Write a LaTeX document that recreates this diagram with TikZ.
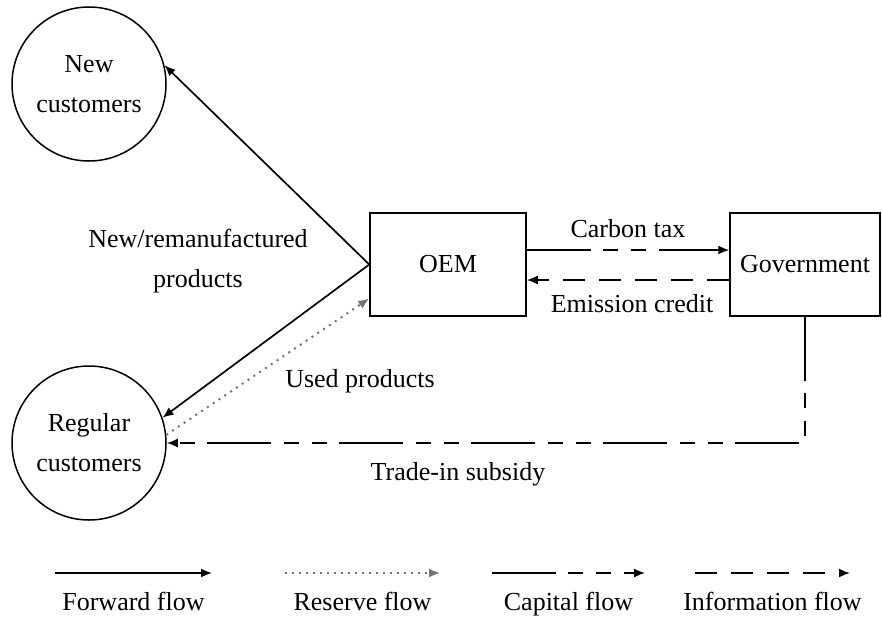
\documentclass[tikz,border=0pt]{standalone}
\usepackage{fontspec}
\setmainfont{Liberation Serif}
\usetikzlibrary{arrows.meta}

\tikzset{
	txt/.style={font=\fontsize{26}{40}\selectfont},
	lab/.style={txt, anchor=base, inner sep=0pt},
	cust/.style={txt, draw, circle, line width=1.5pt, minimum size=154pt, inner sep=0pt, align=center},
	box/.style={txt, draw, rectangle, line width=1.5pt, minimum height=103pt},
	tip/.style={-{Latex[length=11pt,width=9pt]}},
	fwdflow/.style={tip, line width=1.7pt},
	revflow/.style={tip, line width=2pt, draw=black!55, dash pattern=on 2pt off 5pt},
	capflow/.style={tip, line width=1.7pt, dash pattern=on 64pt off 12pt on 15pt off 13pt on 15pt off 13pt},
	infoflow/.style={tip, line width=1.7pt, dash pattern=on 22pt off 14pt}
}

\begin{document}
\begin{tikzpicture}[x=1pt,y=-1pt]
\useasboundingbox (0,0) rectangle (882,627);
% actors
\node[cust] (nc) at (89,84) {New\\customers};
\node[cust] (rc) at (89,443) {Regular\\customers};
\node[box, minimum width=156pt] (oem) at (448,264.5) {OEM};
\node[box, minimum width=150pt] (gov) at (805,264.5) {Government};
% flows
\draw[fwdflow] (oem.west) -- (nc.14);
\draw[fwdflow] (oem.west) -- (rc.19);
\draw[revflow] (rc.6) -- ([yshift=-34pt]oem.west);
\draw[capflow] ([yshift=14.5pt]oem.east) -- ([yshift=14.5pt]gov.west);
\draw[infoflow] ([yshift=-15.5pt]gov.west) -- ([yshift=-15.5pt]oem.east);
\draw[capflow] (gov.south) -- (gov.south |- rc.east) -- (rc.east);
% labels
\node[lab] (lnew) at (198,247) {New/remanufactured};
\node[lab] (lprod) at (198,287) {products};
\node[lab] (ltax) at (628,237) {Carbon tax};
\node[lab] (lcred) at (632,312) {Emission credit};
\node[lab] (lused) at (360,387) {Used products};
\node[lab] (lsub) at (458,480) {Trade-in subsidy};
% legend
\foreach \xa/\xb/\sty/\name [count=\i] in {55/212/fwdflow/Forward flow, 285/440/revflow/Reserve flow, 492/645/capflow/Capital flow, 695/850/infoflow/Information flow}
	{
	\coordinate (k\i a) at (\xa,573);
	\coordinate (k\i b) at (\xb,573);
	\draw[\sty] (k\i a) -- (k\i b);
	\node[lab] (k\i) at ({(\xa+\xb)/2},610) {\name};
	}
\end{tikzpicture}
\end{document}
